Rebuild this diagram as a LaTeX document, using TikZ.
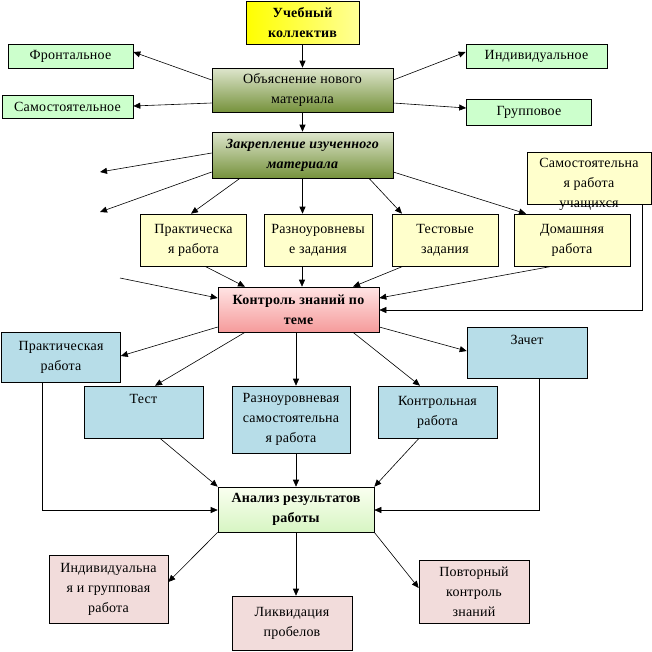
\documentclass[tikz,border=0pt]{standalone}
\usepackage{fontspec}
\setmainfont{Liberation Serif}[LetterSpace=1.5]
\usetikzlibrary{arrows.meta}
\definecolor{lgreen}{RGB}{204,255,204}
\definecolor{lyellow}{RGB}{255,255,204}
\definecolor{lblue}{RGB}{183,221,232}
\definecolor{lpink}{RGB}{242,220,219}
\definecolor{olivetop}{RGB}{222,230,205}
\definecolor{olivebot}{RGB}{118,146,60}
\definecolor{pinktop}{RGB}{255,228,228}
\definecolor{pinkbot}{RGB}{245,155,155}
\definecolor{antop}{RGB}{250,255,240}
\definecolor{anbot}{RGB}{215,245,195}
\newcommand{\boxfont}{\fontsize{14}{20}\selectfont}
\begin{document}
\begin{tikzpicture}[x=1pt,y=-1pt,
  box/.style={draw=black, line width=0.6pt, align=center, inner sep=0pt, font=\boxfont},
  gbox/.style={box, fill=lgreen},
  ybox/.style={box, fill=lyellow},
  bbox/.style={box, fill=lblue},
  pbox/.style={box, fill=lpink},
  obox/.style={box, top color=olivetop, bottom color=olivebot},
  arr/.style={-{Triangle[length=7pt,width=6pt]}, line width=0.6pt}]
\useasboundingbox (0,0) rectangle (652,651);
\fill[white] (0,0) rectangle (652,651);
% top level
\node[box, left color=yellow, right color={rgb,255:red,255;green,255;blue,150}, minimum width=113pt, minimum height=43pt, font=\boxfont\bfseries] (uk) at (302.5,22.5) {Учебный\\коллектив};
\node[gbox, minimum width=125pt, minimum height=24pt] (fr) at (70.5,56) {Фронтальное};
\node[gbox, minimum width=131pt, minimum height=23pt] (sam) at (67.5,107) {Самостоятельное};
\node[gbox, minimum width=141pt, minimum height=24pt] (ind) at (536.5,56) {Индивидуальное};
\node[gbox, minimum width=125pt, minimum height=26pt] (gr) at (529,112) {Групповое};
\node[obox, minimum width=181pt, minimum height=44pt] (ob) at (302.5,90) {Объяснение нового\\материала};
\node[obox, minimum width=181pt, minimum height=46pt, font=\boxfont\bfseries\itshape] (zak) at (302.5,155) {Закрепление изученного\\материала};
% self work box with overflowing text
\node[ybox, minimum width=124pt, minimum height=52pt,
  label={[anchor=north, yshift=-6pt, inner sep=0pt, align=center, font=\boxfont]north:{Самостоятельна\\я работа\\учащихся}}] (srab) at (589,178) {};
% yellow row
\node[ybox, minimum width=106pt, minimum height=52pt] (pr1) at (193.5,240) {Практическа\\я работа};
\node[ybox, minimum width=108pt, minimum height=52pt] (rz) at (318,240) {Разноуровневы\\е задания};
\node[ybox, minimum width=106pt, minimum height=52pt] (ts) at (445,240) {Тестовые\\задания};
\node[ybox, minimum width=116pt, minimum height=52pt] (dm) at (572,240) {Домашняя\\работа};
% control
\node[box, top color=pinktop, bottom color=pinkbot, minimum width=161pt, minimum height=45pt, font=\boxfont\bfseries] (kz) at (298.5,309.5) {Контроль знаний по\\теме};
% blue row
\node[bbox, minimum width=119pt, minimum height=50pt] (pr2) at (61,357) {Практическая\\работа};
\node[bbox, minimum width=119pt, minimum height=52pt] (test) at (143.5,412) {Тест\\\strut};
\node[bbox, minimum width=118pt, minimum height=67pt] (rs) at (291,419.5) {Разноуровневая\\самостоятельна\\я работа};
\node[bbox, minimum width=119pt, minimum height=52pt] (kr) at (437.5,412) {Контрольная\\работа};
\node[bbox, minimum width=120pt, minimum height=51pt] (zach) at (527,352.5) {Зачет\\\strut};
% analysis
\node[box, top color=antop, bottom color=anbot, minimum width=156pt, minimum height=45pt, font=\boxfont\bfseries] (an) at (296,509.5) {Анализ результатов\\работы};
% pink row
\node[pbox, minimum width=119pt, minimum height=68pt] (ig) at (108.5,589) {Индивидуальна\\я и групповая\\работа};
\node[pbox, minimum width=120pt, minimum height=54pt] (lp) at (292,623) {Ликвидация\\пробелов};
\node[pbox, minimum width=110pt, minimum height=63pt] (pk) at (474,591.5) {Повторный\\контроль\\знаний};
% free ends
\coordinate (f1) at (100,172);
\coordinate (f2) at (100,212);
\coordinate (f3) at (120,278);
% connectors
\draw[arr] (uk.south) -- (ob.north);
\draw[arr] (ob.west |- 0,80) -- (fr.east |- 0,52);
\draw[arr] (ob.west |- 0,103) -- (sam.east |- 0,106);
\draw[arr] (ob.east |- 0,80) -- (ind.west |- 0,52);
\draw[arr] (ob.east |- 0,103) -- (gr.west |- 0,108);
\draw[arr] (ob.south) -- (zak.north);
\draw[arr] (zak.west |- 0,153) -- (f1);
\draw[arr] (zak.west |- 0,172) -- (f2);
\draw[arr] (zak.south -| 240,0) -- (pr1.north -| 191,0);
\draw[arr] (zak.south) -- (rz.north -| zak.south);
\draw[arr] (zak.south -| 369,0) -- (ts.north -| 402,0);
\draw[arr] (zak.east |- 0,172) -- (dm.north -| 526,0);
\draw[arr] (pr1.south -| 205,0) -- (kz.north -| 245,0);
\draw[arr] (rz.south -| 302,0) -- (kz.north -| 302,0);
\draw[arr] (ts.south -| 403,0) -- (kz.north -| 353,0);
\draw[arr] (dm.south -| 552,0) -- (kz.east |- 0,298);
\draw[arr] (f3) -- (kz.west |- 0,298);
\draw[arr] (srab.south -| 642,0) |- (kz.east |- 0,310);
\draw[arr] (kz.west |- 0,327) -- (pr2.east |- 0,356);
\draw[arr] (kz.south -| 245,0) -- (test.north -| 155,0);
\draw[arr] (kz.south -| 296,0) -- (rs.north -| 296,0);
\draw[arr] (kz.south -| 353,0) -- (kr.north -| 420,0);
\draw[arr] (kz.east |- 0,327) -- (zach.west |- 0,351);
\draw[arr] (pr2.south -| 42,0) |- (an.west |- 0,510);
\draw[arr] (test.south -| 160,0) -- (an.north west);
\draw[arr] (rs.south -| 296,0) -- (an.north -| 296,0);
\draw[arr] (kr.south -| 419,0) -- (an.north east);
\draw[arr] (zach.south -| 539,0) |- (an.east |- 0,510);
\draw[arr] (an.south west) -- (ig.east |- 0,582);
\draw[arr] (an.south -| 296,0) -- (lp.north -| 296,0);
\draw[arr] (an.south east) -- (pk.west |- 0,588);
\end{tikzpicture}
\end{document}
